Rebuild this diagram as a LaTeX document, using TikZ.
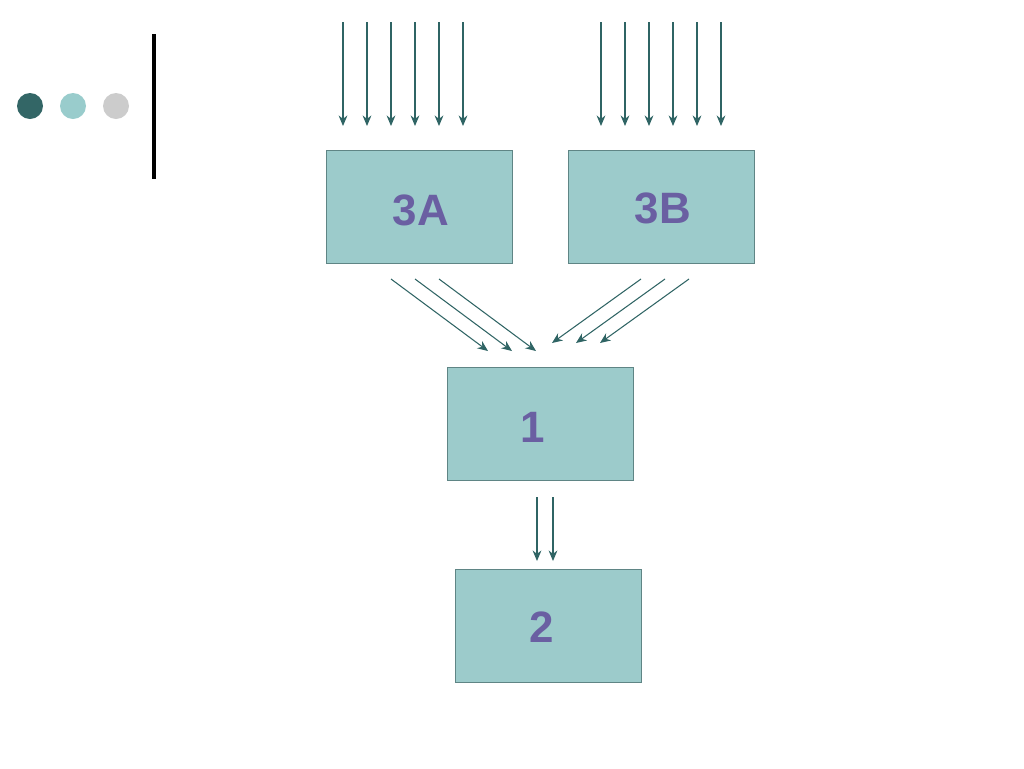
\documentclass[tikz,border=0pt]{standalone}
\usepackage{fontspec}
\setmainfont{Liberation Sans}
\usetikzlibrary{arrows.meta}
\definecolor{boxfill}{HTML}{9CCBCB}
\definecolor{boxline}{HTML}{5F8585}
\definecolor{arrowcol}{HTML}{2F6464}
\definecolor{labelcol}{HTML}{6A5FA2}
\definecolor{dotdark}{HTML}{336666}
\definecolor{dotlight}{HTML}{99CCCC}
\definecolor{dotgray}{HTML}{CCCCCC}
\tikzset{
  levelbox/.style={draw=boxline, fill=boxfill, minimum width=3.72cm, minimum height=2.26cm, inner sep=0pt},
  levellabel/.style={text=labelcol, font=\fontsize{25}{30}\selectfont\bfseries},
  feed/.style={draw=arrowcol, line width=0.6pt, -{Stealth[length=6pt,width=5pt]}}
}
\begin{document}
\begin{tikzpicture}[x=0.02cm, y=-0.02cm]
\useasboundingbox (0,0) rectangle (1024,768);

% Bullets and bar
\fill[dotdark] (30,106) circle (13);
\fill[dotlight] (73,106) circle (13);
\fill[dotgray] (116,106) circle (13);
\draw[line width=2.3pt] (154,34) -- (154,179);

% Boxes
\node[levelbox] (boxA) at (419,206.5) {};
\node[levellabel] (labA) at (421,210) {3A};
\node[levelbox] (boxB) at (661,206.5) {};
\node[levellabel] (labB) at (663,208) {3B};
\node[levelbox] (boxOne) at (540,423.5) {};
\node[levellabel] (labOne) at (533,427) {1};
\node[levelbox] (boxTwo) at (548,625.5) {};
\node[levellabel] (labTwo) at (542,627) {2};

% Incoming arrows on top
\foreach \i in {0,...,5} {
  \coordinate (inA\i) at (343+24*\i,22);
  \coordinate (tipA\i) at (343+24*\i,126);
  \draw[feed] (inA\i) -- (tipA\i);
  \coordinate (inB\i) at (601+24*\i,22);
  \coordinate (tipB\i) at (601+24*\i,126);
  \draw[feed] (inB\i) -- (tipB\i);
}

% Arrows into box 1
\foreach \i in {0,1,2} {
  \coordinate (outA\i) at (391+24*\i,279);
  \coordinate (endA\i) at (488+24*\i,351);
  \draw[feed] (outA\i) -- (endA\i);
  \coordinate (outB\i) at (641+24*\i,279);
  \coordinate (endB\i) at (552+24*\i,343);
  \draw[feed] (outB\i) -- (endB\i);
}

% Arrows into box 2
\foreach \x in {537,553} {
  \coordinate (outOne\x) at (\x,497);
  \coordinate (endOne\x) at (\x,561);
  \draw[feed] (outOne\x) -- (endOne\x);
}
\end{tikzpicture}
\end{document}
